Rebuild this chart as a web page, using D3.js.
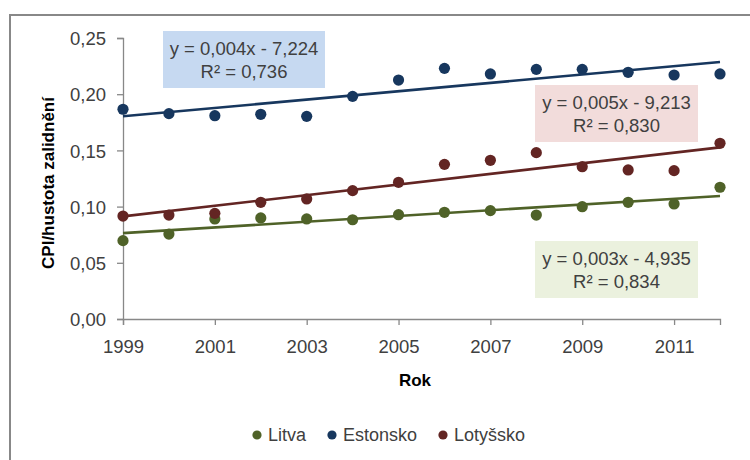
<!DOCTYPE html>
<html><head><meta charset="utf-8">
<script src="https://cdn.jsdelivr.net/npm/d3@7"></script>
<style>body{margin:0;background:#fff}text{font-family:"Liberation Sans",Arial,sans-serif}</style>
</head><body><svg id="c" width="750" height="460"></svg>
<script>
const years = [1999,2000,2001,2002,2003,2004,2005,2006,2007,2008,2009,2010,2011,2012];
const litva    = [0.0697,0.0756,0.0890,0.0899,0.0890,0.0883,0.0928,0.0949,0.0964,0.0925,0.0999,0.1038,0.1023,0.1172];
const estonsko = [0.1866,0.1827,0.1809,0.1821,0.1803,0.1981,0.2126,0.2230,0.2180,0.2221,0.2221,0.2195,0.2171,0.2180];
const lotyssko = [0.0916,0.0925,0.0940,0.1038,0.1068,0.1142,0.1216,0.1376,0.1412,0.1480,0.1355,0.1326,0.1320,0.1563];
const seriesNames = ["Litva","Estonsko","Lotyšsko"];
const seriesColors = ["#4f6228","#17375e","#632523"];
const eqLines = [["y = 0,003x - 4,935","R² = 0,834"],["y = 0,004x - 7,224","R² = 0,736"],["y = 0,005x - 9,213","R² = 0,830"]];
const eqFills = ["#ebf1de","#c6d9f1","#f2dcdb"];
const yTicks = [0,0.05,0.10,0.15,0.20,0.25];
const xTicks = [1999,2001,2003,2005,2007,2009,2011];
const xTitle = "Rok", yTitle = "CPI/hustota zalidnění";

const svg = d3.select("#c");
const x = d3.scaleLinear().domain([1999,2012]).range([123,720]);
const y = d3.scaleLinear().domain([0,0.25]).range([319,38]);
const fmt = v => d3.format(".2f")(v).replace(".",",");

// outer frame
svg.append("path").attr("d","M10,460V15H752").attr("fill","none").attr("stroke","#888").attr("stroke-width",2);

// axes
const ya = svg.append("g").attr("transform","translate(123,0)")
  .call(d3.axisLeft(y).tickValues(yTicks).tickFormat(fmt).tickSize(6).tickPadding(11));
const xa = svg.append("g").attr("transform","translate(0,319)")
  .call(d3.axisBottom(x).tickValues(xTicks).tickFormat(d3.format("d")).tickSize(6).tickPadding(15));
[ya,xa].forEach(g=>{
  g.select(".domain").attr("stroke","#888").attr("stroke-width",1.3);
  g.selectAll(".tick line").attr("stroke","#888").attr("stroke-width",1.3);
  g.selectAll("text").attr("fill","#404040").style("font-size","18.5px").style("font-family","Liberation Sans, Arial");
});
ya.selectAll("text").attr("dy","0.36em");
xa.selectAll("text").attr("dy","0.71em");

svg.append("text").attr("x",415).attr("y",386).attr("text-anchor","middle")
  .style("font-size","17px").style("font-weight","bold").attr("fill","#000").text(xTitle);
svg.append("text").attr("transform","translate(54,183) rotate(-90)").attr("text-anchor","middle")
  .style("font-size","17px").style("font-weight","bold").attr("fill","#000").text(yTitle);

const data = [litva, estonsko, lotyssko];
function regress(vals){
  const mx=d3.mean(years), my=d3.mean(vals);
  let sxy=0,sxx=0; years.forEach((t,i)=>{sxy+=(t-mx)*(vals[i]-my); sxx+=(t-mx)*(t-mx);});
  const b=sxy/sxx; return {b, a:my-b*mx};
}
// trendlines
data.forEach((vals,k)=>{
  const r=regress(vals);
  const ends=[1999,2012];
  svg.append("line").attr("x1",x(ends[0])).attr("y1",y(r.a+r.b*ends[0]))
    .attr("x2",x(ends[1])).attr("y2",y(r.a+r.b*ends[1]))
    .attr("stroke",seriesColors[k]).attr("stroke-width",2.6);
});
// points
data.forEach((vals,k)=>{
  svg.append("g").selectAll("circle").data(vals).join("circle")
    .attr("cx",(d,i)=>x(years[i])).attr("cy",d=>y(d)).attr("r",5.6).attr("fill",seriesColors[k]);
});

// equation labels
const boxes = [[535,241,163,57],[163,31,162,57],[535,85,163,57]];
boxes.forEach((b,k)=>{
  const g=svg.append("g");
  g.append("rect").attr("x",b[0]).attr("y",b[1]).attr("width",b[2]).attr("height",b[3]).attr("fill",eqFills[k]);
  eqLines[k].forEach((t,j)=>{
    g.append("text").attr("x",b[0]+b[2]/2).attr("y",b[1]+24+j*23).attr("text-anchor","middle")
      .attr("fill","#404040").style("font-size","18.5px").text(t);
  });
});

// legend
const legX=[257,332,443];
seriesNames.forEach((n,k)=>{
  svg.append("circle").attr("cx",legX[k]).attr("cy",435).attr("r",4.6).attr("fill",seriesColors[k]);
  svg.append("text").attr("x",legX[k]+11).attr("y",441).attr("fill","#404040").style("font-size","18px").text(n);
});
</script></body></html>
